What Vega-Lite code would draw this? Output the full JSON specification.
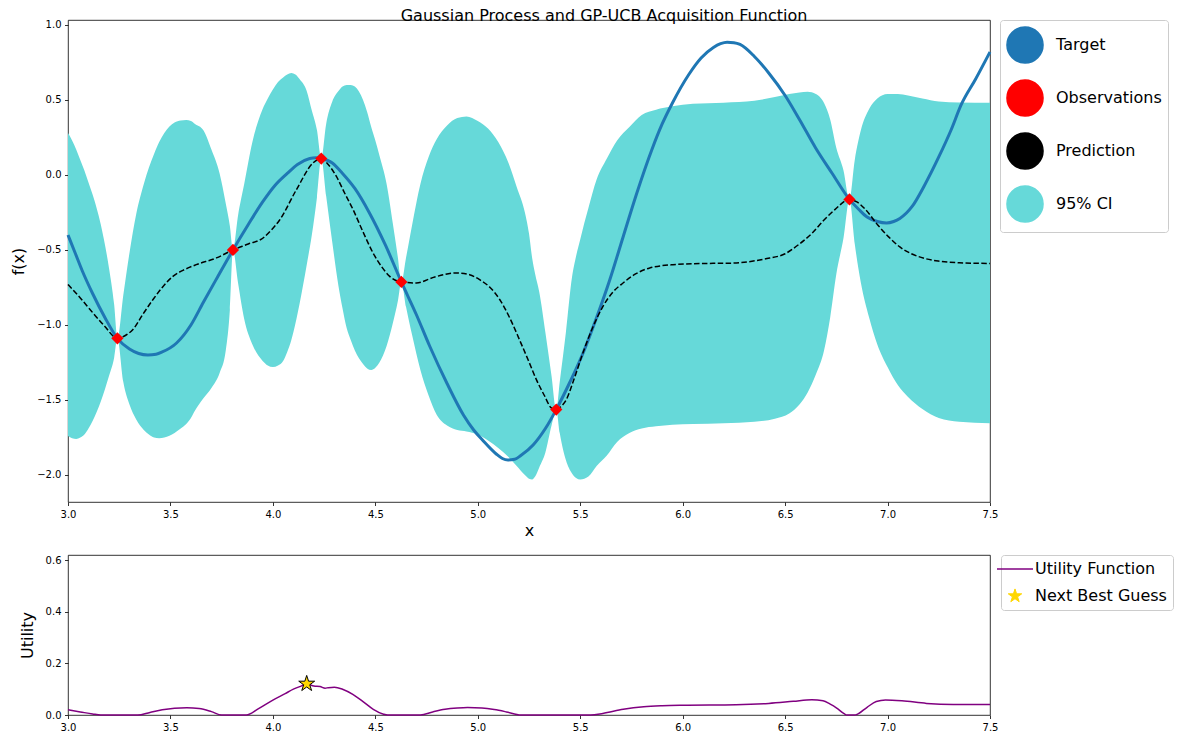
{
  "$schema": "https://vega.github.io/schema/vega-lite/v6.json",
  "background": "white",
  "padding": {"left": 10, "top": 7, "right": 0, "bottom": 0},
  "spacing": 15,
  "config": {
    "font": "DejaVu Sans",
    "view": {"stroke": "#000", "strokeWidth": 0.8},
    "axis": {"grid": false, "domain": false, "tickColor": "#000", "tickSize": 3.5, "tickWidth": 0.8,
      "labelFontSize": 10, "labelColor": "#000", "labelPadding": 3.5, "labelFont": "DejaVu Sans",
      "titleFontSize": 16, "titleFontWeight": "normal", "titleColor": "#000", "titleFont": "DejaVu Sans",
      "labelFlush": false, "labelOverlap": false},
    "axisX": {"titlePadding": 3},
    "axisY": {"titlePadding": 10},
    "legend": {"labelFontSize": 16, "labelFont": "DejaVu Sans", "labelColor": "#000", "symbolSize": 1300,
      "rowPadding": 9, "padding": 6, "strokeColor": "#cccccc", "cornerRadius": 3, "fillColor": "white",
      "labelOffset": 12, "orient": "none"}
  },
  "resolve": {"scale": {"color": "independent"}, "legend": {"color": "independent"}},
  "data": {"values": [
      {"series":"Target","x":3.0,"y":-0.40},{"series":"Target","x":3.035,"y":-0.52},{"series":"Target","x":3.07,"y":-0.64},{"series":"Target","x":3.12,"y":-0.79},{"series":"Target","x":3.18,"y":-0.95},{"series":"Target","x":3.241,"y":-1.089},
      {"series":"Target","x":3.30,"y":-1.16},{"series":"Target","x":3.345,"y":-1.19},{"series":"Target","x":3.39,"y":-1.20},{"series":"Target","x":3.43,"y":-1.195},{"series":"Target","x":3.46,"y":-1.18},{"series":"Target","x":3.53,"y":-1.12},{"series":"Target","x":3.60,"y":-1.00},
      {"series":"Target","x":3.66,"y":-0.85},{"series":"Target","x":3.73,"y":-0.68},{"series":"Target","x":3.805,"y":-0.50},{"series":"Target","x":3.88,"y":-0.33},{"series":"Target","x":3.95,"y":-0.18},
      {"series":"Target","x":4.01,"y":-0.07},{"series":"Target","x":4.07,"y":0.01},{"series":"Target","x":4.12,"y":0.07},{"series":"Target","x":4.18,"y":0.11},{"series":"Target","x":4.21,"y":0.115},{"series":"Target","x":4.236,"y":0.11},{"series":"Target","x":4.29,"y":0.08},{"series":"Target","x":4.34,"y":0.01},
      {"series":"Target","x":4.40,"y":-0.09},{"series":"Target","x":4.47,"y":-0.25},{"series":"Target","x":4.55,"y":-0.47},{"series":"Target","x":4.627,"y":-0.713},{"series":"Target","x":4.70,"y":-0.93},
      {"series":"Target","x":4.765,"y":-1.14},{"series":"Target","x":4.85,"y":-1.39},{"series":"Target","x":4.93,"y":-1.60},{"series":"Target","x":4.98,"y":-1.70},{"series":"Target","x":5.025,"y":-1.77},{"series":"Target","x":5.09,"y":-1.86},
      {"series":"Target","x":5.12,"y":-1.89},{"series":"Target","x":5.147,"y":-1.90},{"series":"Target","x":5.18,"y":-1.895},{"series":"Target","x":5.21,"y":-1.87},{"series":"Target","x":5.27,"y":-1.80},{"series":"Target","x":5.33,"y":-1.69},{"series":"Target","x":5.383,"y":-1.564},
      {"series":"Target","x":5.45,"y":-1.38},{"series":"Target","x":5.513,"y":-1.19},{"series":"Target","x":5.58,"y":-0.95},{"series":"Target","x":5.644,"y":-0.70},{"series":"Target","x":5.71,"y":-0.41},
      {"series":"Target","x":5.774,"y":-0.13},{"series":"Target","x":5.85,"y":0.17},{"series":"Target","x":5.90,"y":0.34},{"series":"Target","x":5.95,"y":0.48},{"series":"Target","x":6.03,"y":0.67},{"series":"Target","x":6.09,"y":0.78},
      {"series":"Target","x":6.15,"y":0.85},{"series":"Target","x":6.185,"y":0.875},{"series":"Target","x":6.217,"y":0.885},{"series":"Target","x":6.25,"y":0.882},{"series":"Target","x":6.28,"y":0.87},{"series":"Target","x":6.35,"y":0.79},{"series":"Target","x":6.42,"y":0.68},
      {"series":"Target","x":6.50,"y":0.53},{"series":"Target","x":6.57,"y":0.37},{"series":"Target","x":6.649,"y":0.18},{"series":"Target","x":6.73,"y":0.01},{"series":"Target","x":6.814,"y":-0.163},
      {"series":"Target","x":6.86,"y":-0.23},{"series":"Target","x":6.90,"y":-0.28},{"series":"Target","x":6.95,"y":-0.31},{"series":"Target","x":6.995,"y":-0.32},{"series":"Target","x":7.03,"y":-0.31},{"series":"Target","x":7.06,"y":-0.29},{"series":"Target","x":7.12,"y":-0.21},{"series":"Target","x":7.18,"y":-0.07},
      {"series":"Target","x":7.25,"y":0.12},{"series":"Target","x":7.31,"y":0.30},{"series":"Target","x":7.36,"y":0.47},{"series":"Target","x":7.43,"y":0.64},{"series":"Target","x":7.50,"y":0.82},
      {"series":"Prediction","x":3.0,"y":-0.73},{"series":"Prediction","x":3.06,"y":-0.82},{"series":"Prediction","x":3.122,"y":-0.92},{"series":"Prediction","x":3.18,"y":-1.01},{"series":"Prediction","x":3.241,"y":-1.089},
      {"series":"Prediction","x":3.28,"y":-1.07},{"series":"Prediction","x":3.317,"y":-1.03},{"series":"Prediction","x":3.365,"y":-0.93},{"series":"Prediction","x":3.415,"y":-0.83},{"series":"Prediction","x":3.46,"y":-0.75},
      {"series":"Prediction","x":3.512,"y":-0.676},{"series":"Prediction","x":3.57,"y":-0.63},{"series":"Prediction","x":3.626,"y":-0.598},{"series":"Prediction","x":3.724,"y":-0.553},{"series":"Prediction","x":3.805,"y":-0.50},
      {"series":"Prediction","x":3.88,"y":-0.46},{"series":"Prediction","x":3.952,"y":-0.42},{"series":"Prediction","x":3.99,"y":-0.37},{"series":"Prediction","x":4.033,"y":-0.30},{"series":"Prediction","x":4.114,"y":-0.10},
      {"series":"Prediction","x":4.196,"y":0.08},{"series":"Prediction","x":4.236,"y":0.109},{"series":"Prediction","x":4.27,"y":0.07},{"series":"Prediction","x":4.31,"y":-0.01},{"series":"Prediction","x":4.35,"y":-0.12},
      {"series":"Prediction","x":4.391,"y":-0.23},{"series":"Prediction","x":4.44,"y":-0.38},{"series":"Prediction","x":4.489,"y":-0.52},{"series":"Prediction","x":4.53,"y":-0.61},{"series":"Prediction","x":4.57,"y":-0.676},
      {"series":"Prediction","x":4.627,"y":-0.713},{"series":"Prediction","x":4.70,"y":-0.72},{"series":"Prediction","x":4.79,"y":-0.68},{"series":"Prediction","x":4.895,"y":-0.653},{"series":"Prediction","x":4.96,"y":-0.665},
      {"series":"Prediction","x":5.009,"y":-0.698},{"series":"Prediction","x":5.06,"y":-0.75},{"series":"Prediction","x":5.107,"y":-0.83},{"series":"Prediction","x":5.155,"y":-0.95},{"series":"Prediction","x":5.204,"y":-1.10},
      {"series":"Prediction","x":5.245,"y":-1.23},{"series":"Prediction","x":5.286,"y":-1.364},{"series":"Prediction","x":5.325,"y":-1.47},{"series":"Prediction","x":5.359,"y":-1.553},{"series":"Prediction","x":5.383,"y":-1.564},
      {"series":"Prediction","x":5.405,"y":-1.545},{"series":"Prediction","x":5.432,"y":-1.498},{"series":"Prediction","x":5.47,"y":-1.36},{"series":"Prediction","x":5.513,"y":-1.187},{"series":"Prediction","x":5.56,"y":-1.02},
      {"series":"Prediction","x":5.611,"y":-0.876},{"series":"Prediction","x":5.66,"y":-0.78},{"series":"Prediction","x":5.709,"y":-0.72},{"series":"Prediction","x":5.77,"y":-0.66},{"series":"Prediction","x":5.839,"y":-0.62},
      {"series":"Prediction","x":5.953,"y":-0.598},{"series":"Prediction","x":6.1,"y":-0.59},{"series":"Prediction","x":6.239,"y":-0.588},{"series":"Prediction","x":6.40,"y":-0.56},{"series":"Prediction","x":6.50,"y":-0.525},
      {"series":"Prediction","x":6.57,"y":-0.46},{"series":"Prediction","x":6.631,"y":-0.389},{"series":"Prediction","x":6.69,"y":-0.30},{"series":"Prediction","x":6.743,"y":-0.231},{"series":"Prediction","x":6.814,"y":-0.163},
      {"series":"Prediction","x":6.85,"y":-0.18},{"series":"Prediction","x":6.892,"y":-0.23},{"series":"Prediction","x":6.95,"y":-0.33},{"series":"Prediction","x":7.004,"y":-0.411},{"series":"Prediction","x":7.06,"y":-0.48},
      {"series":"Prediction","x":7.116,"y":-0.525},{"series":"Prediction","x":7.18,"y":-0.556},{"series":"Prediction","x":7.247,"y":-0.574},{"series":"Prediction","x":7.35,"y":-0.585},{"series":"Prediction","x":7.5,"y":-0.59},
      {"series":"95% CI","x":3.00,"lo":-1.74,"hi":0.28},{"series":"95% CI","x":3.02,"lo":-1.755,"hi":0.23},{"series":"95% CI","x":3.04,"lo":-1.76,"hi":0.17},{"series":"95% CI","x":3.06,"lo":-1.75,"hi":0.10},{"series":"95% CI","x":3.08,"lo":-1.73,"hi":0.03},
      {"series":"95% CI","x":3.10,"lo":-1.69,"hi":-0.05},{"series":"95% CI","x":3.12,"lo":-1.64,"hi":-0.13},{"series":"95% CI","x":3.16,"lo":-1.51,"hi":-0.33},{"series":"95% CI","x":3.20,"lo":-1.34,"hi":-0.62},
      {"series":"95% CI","x":3.225,"lo":-1.22,"hi":-0.86},{"series":"95% CI","x":3.241,"lo":-1.089,"hi":-1.089},
      {"series":"95% CI","x":3.27,"lo":-1.38,"hi":-0.80},{"series":"95% CI","x":3.30,"lo":-1.53,"hi":-0.52},{"series":"95% CI","x":3.333,"lo":-1.63,"hi":-0.26},
      {"series":"95% CI","x":3.37,"lo":-1.70,"hi":-0.06},{"series":"95% CI","x":3.395,"lo":-1.73,"hi":0.05},{"series":"95% CI","x":3.42,"lo":-1.75,"hi":0.14},{"series":"95% CI","x":3.445,"lo":-1.755,"hi":0.22},{"series":"95% CI","x":3.47,"lo":-1.75,"hi":0.28},
      {"series":"95% CI","x":3.52,"lo":-1.72,"hi":0.35},{"series":"95% CI","x":3.55,"lo":-1.69,"hi":0.363},{"series":"95% CI","x":3.577,"lo":-1.66,"hi":0.367},{"series":"95% CI","x":3.60,"lo":-1.62,"hi":0.36},{"series":"95% CI","x":3.62,"lo":-1.57,"hi":0.34},
      {"series":"95% CI","x":3.66,"lo":-1.49,"hi":0.30},{"series":"95% CI","x":3.70,"lo":-1.42,"hi":0.17},{"series":"95% CI","x":3.74,"lo":-1.32,"hi":0.01},
      {"series":"95% CI","x":3.77,"lo":-1.17,"hi":-0.19},{"series":"95% CI","x":3.79,"lo":-0.90,"hi":-0.34},{"series":"95% CI","x":3.805,"lo":-0.50,"hi":-0.50},
      {"series":"95% CI","x":3.83,"lo":-0.72,"hi":-0.27},{"series":"95% CI","x":3.86,"lo":-0.96,"hi":-0.06},{"series":"95% CI","x":3.90,"lo":-1.13,"hi":0.22},
      {"series":"95% CI","x":3.95,"lo":-1.24,"hi":0.44},{"series":"95% CI","x":3.975,"lo":-1.27,"hi":0.51},{"series":"95% CI","x":4.00,"lo":-1.28,"hi":0.57},{"series":"95% CI","x":4.025,"lo":-1.27,"hi":0.62},{"series":"95% CI","x":4.05,"lo":-1.24,"hi":0.65},
      {"series":"95% CI","x":4.07,"lo":-1.18,"hi":0.67},{"series":"95% CI","x":4.09,"lo":-1.10,"hi":0.68},{"series":"95% CI","x":4.11,"lo":-0.99,"hi":0.67},{"series":"95% CI","x":4.13,"lo":-0.86,"hi":0.64},{"series":"95% CI","x":4.165,"lo":-0.60,"hi":0.56},
      {"series":"95% CI","x":4.19,"lo":-0.40,"hi":0.43},{"series":"95% CI","x":4.215,"lo":-0.15,"hi":0.30},{"series":"95% CI","x":4.236,"lo":0.109,"hi":0.109},
      {"series":"95% CI","x":4.26,"lo":-0.14,"hi":0.34},{"series":"95% CI","x":4.29,"lo":-0.45,"hi":0.49},{"series":"95% CI","x":4.32,"lo":-0.74,"hi":0.56},
      {"series":"95% CI","x":4.34,"lo":-0.89,"hi":0.59},{"series":"95% CI","x":4.36,"lo":-1.02,"hi":0.60},{"series":"95% CI","x":4.38,"lo":-1.10,"hi":0.60},{"series":"95% CI","x":4.40,"lo":-1.17,"hi":0.59},{"series":"95% CI","x":4.44,"lo":-1.26,"hi":0.50},
      {"series":"95% CI","x":4.46,"lo":-1.29,"hi":0.42},{"series":"95% CI","x":4.48,"lo":-1.30,"hi":0.32},{"series":"95% CI","x":4.50,"lo":-1.285,"hi":0.23},{"series":"95% CI","x":4.52,"lo":-1.25,"hi":0.13},{"series":"95% CI","x":4.555,"lo":-1.14,"hi":-0.06},
      {"series":"95% CI","x":4.585,"lo":-0.99,"hi":-0.32},{"series":"95% CI","x":4.61,"lo":-0.84,"hi":-0.55},{"series":"95% CI","x":4.627,"lo":-0.713,"hi":-0.713},
      {"series":"95% CI","x":4.65,"lo":-0.88,"hi":-0.55},{"series":"95% CI","x":4.68,"lo":-1.07,"hi":-0.33},{"series":"95% CI","x":4.72,"lo":-1.30,"hi":-0.06},
      {"series":"95% CI","x":4.76,"lo":-1.47,"hi":0.12},{"series":"95% CI","x":4.80,"lo":-1.60,"hi":0.24},{"series":"95% CI","x":4.85,"lo":-1.67,"hi":0.33},
      {"series":"95% CI","x":4.90,"lo":-1.70,"hi":0.38},{"series":"95% CI","x":4.945,"lo":-1.71,"hi":0.39},{"series":"95% CI","x":5.00,"lo":-1.73,"hi":0.36},
      {"series":"95% CI","x":5.05,"lo":-1.77,"hi":0.31},{"series":"95% CI","x":5.10,"lo":-1.82,"hi":0.22},{"series":"95% CI","x":5.15,"lo":-1.88,"hi":0.08},
      {"series":"95% CI","x":5.19,"lo":-1.94,"hi":-0.08},{"series":"95% CI","x":5.23,"lo":-2.00,"hi":-0.25},{"series":"95% CI","x":5.25,"lo":-2.025,"hi":-0.39},{"series":"95% CI","x":5.265,"lo":-2.03,"hi":-0.55},
      {"series":"95% CI","x":5.28,"lo":-2.01,"hi":-0.66},{"series":"95% CI","x":5.30,"lo":-1.95,"hi":-0.78},{"series":"95% CI","x":5.33,"lo":-1.85,"hi":-1.05},{"series":"95% CI","x":5.36,"lo":-1.67,"hi":-1.34},
      {"series":"95% CI","x":5.383,"lo":-1.564,"hi":-1.564},
      {"series":"95% CI","x":5.40,"lo":-1.72,"hi":-1.38},{"series":"95% CI","x":5.43,"lo":-1.90,"hi":-1.05},{"series":"95% CI","x":5.46,"lo":-1.99,"hi":-0.68},
      {"series":"95% CI","x":5.48,"lo":-2.02,"hi":-0.54},{"series":"95% CI","x":5.50,"lo":-2.03,"hi":-0.43},{"series":"95% CI","x":5.52,"lo":-2.025,"hi":-0.32},{"series":"95% CI","x":5.54,"lo":-2.01,"hi":-0.22},{"series":"95% CI","x":5.58,"lo":-1.94,"hi":-0.03},
      {"series":"95% CI","x":5.63,"lo":-1.87,"hi":0.11},{"series":"95% CI","x":5.68,"lo":-1.78,"hi":0.23},{"series":"95% CI","x":5.74,"lo":-1.72,"hi":0.32},
      {"series":"95% CI","x":5.80,"lo":-1.69,"hi":0.40},{"series":"95% CI","x":5.87,"lo":-1.675,"hi":0.435},{"series":"95% CI","x":5.95,"lo":-1.665,"hi":0.458},
      {"series":"95% CI","x":6.05,"lo":-1.66,"hi":0.475},{"series":"95% CI","x":6.20,"lo":-1.655,"hi":0.482},{"series":"95% CI","x":6.35,"lo":-1.645,"hi":0.495},
      {"series":"95% CI","x":6.45,"lo":-1.625,"hi":0.52},{"series":"95% CI","x":6.52,"lo":-1.59,"hi":0.54},{"series":"95% CI","x":6.57,"lo":-1.53,"hi":0.55},
      {"series":"95% CI","x":6.61,"lo":-1.45,"hi":0.555},{"series":"95% CI","x":6.65,"lo":-1.33,"hi":0.54},{"series":"95% CI","x":6.69,"lo":-1.17,"hi":0.48},
      {"series":"95% CI","x":6.72,"lo":-0.95,"hi":0.37},{"series":"95% CI","x":6.75,"lo":-0.66,"hi":0.18},{"series":"95% CI","x":6.785,"lo":-0.42,"hi":0.03},
      {"series":"95% CI","x":6.814,"lo":-0.163,"hi":-0.163},
      {"series":"95% CI","x":6.84,"lo":-0.46,"hi":0.10},{"series":"95% CI","x":6.87,"lo":-0.72,"hi":0.30},{"series":"95% CI","x":6.91,"lo":-0.95,"hi":0.44},
      {"series":"95% CI","x":6.95,"lo":-1.13,"hi":0.51},{"series":"95% CI","x":7.00,"lo":-1.28,"hi":0.54},{"series":"95% CI","x":7.05,"lo":-1.40,"hi":0.54},
      {"series":"95% CI","x":7.10,"lo":-1.48,"hi":0.53},{"series":"95% CI","x":7.17,"lo":-1.56,"hi":0.51},{"series":"95% CI","x":7.25,"lo":-1.62,"hi":0.49},
      {"series":"95% CI","x":7.35,"lo":-1.645,"hi":0.483},{"series":"95% CI","x":7.50,"lo":-1.655,"hi":0.481},
      {"series":"Observations","x":3.241,"y":-1.089},{"series":"Observations","x":3.805,"y":-0.50},{"series":"Observations","x":4.236,"y":0.109},
      {"series":"Observations","x":4.627,"y":-0.713},{"series":"Observations","x":5.383,"y":-1.564},{"series":"Observations","x":6.814,"y":-0.163},
      {"series":"Utility Function","x":3.00,"y":0.020},{"series":"Utility Function","x":3.06,"y":0.012},{"series":"Utility Function","x":3.12,"y":0.004},{"series":"Utility Function","x":3.16,"y":0.0},{"series":"Utility Function","x":3.34,"y":0.0},
      {"series":"Utility Function","x":3.40,"y":0.010},{"series":"Utility Function","x":3.46,"y":0.020},{"series":"Utility Function","x":3.52,"y":0.026},{"series":"Utility Function","x":3.58,"y":0.028},{"series":"Utility Function","x":3.64,"y":0.025},
      {"series":"Utility Function","x":3.70,"y":0.013},{"series":"Utility Function","x":3.75,"y":0.0},{"series":"Utility Function","x":3.87,"y":0.0},{"series":"Utility Function","x":3.93,"y":0.025},{"series":"Utility Function","x":4.00,"y":0.058},
      {"series":"Utility Function","x":4.06,"y":0.083},{"series":"Utility Function","x":4.10,"y":0.100},{"series":"Utility Function","x":4.14,"y":0.113},{"series":"Utility Function","x":4.165,"y":0.121},{"series":"Utility Function","x":4.20,"y":0.112},
      {"series":"Utility Function","x":4.23,"y":0.110},{"series":"Utility Function","x":4.255,"y":0.104},{"series":"Utility Function","x":4.27,"y":0.106},{"series":"Utility Function","x":4.30,"y":0.108},{"series":"Utility Function","x":4.34,"y":0.100},
      {"series":"Utility Function","x":4.39,"y":0.080},{"series":"Utility Function","x":4.44,"y":0.052},{"series":"Utility Function","x":4.49,"y":0.022},{"series":"Utility Function","x":4.54,"y":0.003},{"series":"Utility Function","x":4.56,"y":0.0},
      {"series":"Utility Function","x":4.72,"y":0.0},{"series":"Utility Function","x":4.78,"y":0.012},{"series":"Utility Function","x":4.84,"y":0.022},{"series":"Utility Function","x":4.90,"y":0.027},{"series":"Utility Function","x":4.95,"y":0.029},
      {"series":"Utility Function","x":5.02,"y":0.027},{"series":"Utility Function","x":5.08,"y":0.021},{"series":"Utility Function","x":5.14,"y":0.012},{"series":"Utility Function","x":5.21,"y":0.0},{"series":"Utility Function","x":5.55,"y":0.0},
      {"series":"Utility Function","x":5.61,"y":0.006},{"series":"Utility Function","x":5.71,"y":0.022},{"series":"Utility Function","x":5.81,"y":0.032},{"series":"Utility Function","x":5.90,"y":0.036},{"series":"Utility Function","x":6.00,"y":0.038},
      {"series":"Utility Function","x":6.26,"y":0.040},{"series":"Utility Function","x":6.42,"y":0.045},{"series":"Utility Function","x":6.54,"y":0.053},{"series":"Utility Function","x":6.63,"y":0.059},{"series":"Utility Function","x":6.685,"y":0.055},
      {"series":"Utility Function","x":6.72,"y":0.042},{"series":"Utility Function","x":6.75,"y":0.028},{"series":"Utility Function","x":6.79,"y":0.004},{"series":"Utility Function","x":6.80,"y":0.0},{"series":"Utility Function","x":6.84,"y":0.0},
      {"series":"Utility Function","x":6.85,"y":0.002},{"series":"Utility Function","x":6.90,"y":0.030},{"series":"Utility Function","x":6.945,"y":0.052},{"series":"Utility Function","x":6.99,"y":0.058},{"series":"Utility Function","x":7.07,"y":0.055},
      {"series":"Utility Function","x":7.19,"y":0.045},{"series":"Utility Function","x":7.32,"y":0.041},{"series":"Utility Function","x":7.50,"y":0.041},
      {"series":"Next Best Guess","x":4.165,"y":0.121}
  ]},
  "vconcat": [
    {
      "width": 922,
      "height": 482,
      "title": {"text": "Gaussian Process and GP-UCB Acquisition Function", "anchor": "middle", "frame": "group", "offset": -17, "baseline": "alphabetic", "dx": 75, "fontSize": 16, "fontWeight": "normal", "color": "#000", "font": "DejaVu Sans"},
      "layer": [
        {
          "transform": [{"filter": "datum.series === '95% CI'"}],
          "mark": {"type": "area", "interpolate": "monotone", "opacity": 1},
          "encoding": {
            "x": {"field": "x", "type": "quantitative", "scale": {"domain": [3, 7.5], "nice": false, "zero": false},
              "axis": {"title": "x", "values": [3, 3.5, 4, 4.5, 5, 5.5, 6, 6.5, 7, 7.5], "format": ".1f"}},
            "y": {"field": "lo", "type": "quantitative", "scale": {"domain": [-2.18, 1.033], "nice": false, "zero": false},
              "axis": {"title": "f(x)", "values": [-2, -1.5, -1, -0.5, 0, 0.5, 1], "format": ".1f"}},
            "y2": {"field": "hi"},
            "color": {"field": "series", "type": "nominal",
              "scale": {"domain": ["Target", "Observations", "Prediction", "95% CI"], "range": ["#1f77b4", "#ff0000", "#000000", "#66d9d9"]},
              "legend": {"title": null, "legendX": 932, "legendY": 0,
                "encode": {"symbols": {"update": {
                  "shape": {"signal": "datum.value === 'Observations' ? 'diamond' : datum.value === '95% CI' ? 'M-1,-0.33H1V0.33H-1Z' : 'stroke'"},
                  "size": {"signal": "datum.value === 'Observations' ? 120 : 1300"},
                  "fill": {"signal": "datum.value === 'Observations' ? '#ff0000' : datum.value === '95% CI' ? '#66d9d9' : 'transparent'"},
                  "stroke": {"signal": "datum.value === 'Target' ? '#1f77b4' : datum.value === 'Prediction' ? '#000000' : 'transparent'"},
                  "strokeWidth": {"signal": "datum.value === 'Target' ? 3 : datum.value === 'Prediction' ? 1.5 : 0"},
                  "strokeDash": {"signal": "datum.value === 'Prediction' ? [5.5, 2.4] : [1, 0]"},
                  "opacity": {"value": 1}
                }}}}}
          }
        },
        {
          "transform": [{"filter": "datum.series === 'Target'"}],
          "mark": {"type": "line", "interpolate": "monotone", "strokeWidth": 3},
          "encoding": {
            "x": {"field": "x", "type": "quantitative"},
            "y": {"field": "y", "type": "quantitative"},
            "color": {"field": "series", "type": "nominal"}
          }
        },
        {
          "transform": [{"filter": "datum.series === 'Prediction'"}],
          "mark": {"type": "line", "interpolate": "monotone", "strokeWidth": 1.5, "strokeDash": [5.5, 2.4]},
          "encoding": {
            "x": {"field": "x", "type": "quantitative"},
            "y": {"field": "y", "type": "quantitative"},
            "color": {"field": "series", "type": "nominal"}
          }
        },
        {
          "transform": [{"filter": "datum.series === 'Observations'"}],
          "mark": {"type": "point", "shape": "diamond", "filled": true, "size": 150, "opacity": 1},
          "encoding": {
            "x": {"field": "x", "type": "quantitative"},
            "y": {"field": "y", "type": "quantitative"},
            "color": {"field": "series", "type": "nominal"}
          }
        }
      ]
    },
    {
      "width": 922,
      "height": 160,
      "layer": [
        {
          "transform": [{"filter": "datum.series === 'Utility Function'"}],
          "mark": {"type": "line", "interpolate": "monotone", "strokeWidth": 1.5},
          "encoding": {
            "x": {"field": "x", "type": "quantitative", "scale": {"domain": [3, 7.5], "nice": false, "zero": false},
              "axis": {"title": "x", "values": [3, 3.5, 4, 4.5, 5, 5.5, 6, 6.5, 7, 7.5], "format": ".1f"}},
            "y": {"field": "y", "type": "quantitative", "scale": {"domain": [0, 0.62], "nice": false},
              "axis": {"title": "Utility", "values": [0, 0.1, 0.2, 0.3, 0.4, 0.5, 0.6], "format": ".1f"}},
            "color": {"field": "series", "type": "nominal",
              "scale": {"domain": ["Utility Function", "Next Best Guess"], "range": ["#800080", "#ffd700"]},
              "legend": {"title": null, "legendX": 933, "legendY": 0,
                "encode": {"symbols": {"update": {
                  "shape": {"signal": "datum.value === 'Next Best Guess' ? 'M0,-1L0.225,-0.309L0.951,-0.309L0.363,0.118L0.588,0.809L0,0.382L-0.588,0.809L-0.363,0.118L-0.951,-0.309L-0.225,-0.309Z' : 'stroke'"},
                  "size": {"signal": "datum.value === 'Next Best Guess' ? 200 : 1300"},
                  "fill": {"signal": "datum.value === 'Next Best Guess' ? '#ffd700' : 'transparent'"},
                  "stroke": {"signal": "datum.value === 'Next Best Guess' ? '#000000' : '#800080'"},
                  "strokeWidth": {"signal": "datum.value === 'Next Best Guess' ? 1 : 1.5"},
                  "opacity": {"value": 1}
                }}}}}
          }
        },
        {
          "transform": [{"filter": "datum.series === 'Next Best Guess'"}],
          "mark": {"type": "point", "shape": "M0,-1L0.225,-0.309L0.951,-0.309L0.363,0.118L0.588,0.809L0,0.382L-0.588,0.809L-0.363,0.118L-0.951,-0.309L-0.225,-0.309Z", "filled": true, "size": 280, "stroke": "#000", "strokeWidth": 1, "opacity": 1},
          "encoding": {
            "x": {"field": "x", "type": "quantitative"},
            "y": {"field": "y", "type": "quantitative"},
            "color": {"field": "series", "type": "nominal"}
          }
        }
      ]
    }
  ]
}
